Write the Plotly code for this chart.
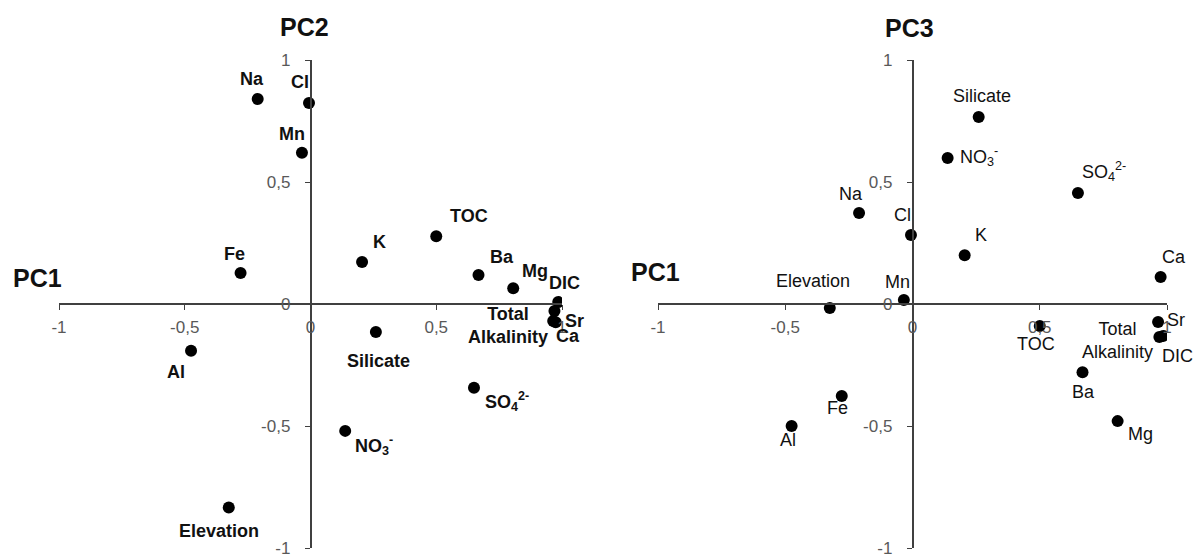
import plotly.graph_objects as go

# PCA loadings of the water-chemistry variables
variables = ["Elevation", "Al", "Fe", "Na", "Cl", "Mn", "K", "TOC", "Ba", "Mg",
             "Silicate", "NO3", "SO4", "DIC", "Total Alkalinity", "Sr", "Ca"]
pc1 = [-0.325, -0.475, -0.278, -0.21, -0.006, -0.034, 0.205, 0.50, 0.668, 0.806,
       0.26, 0.138, 0.65, 0.985, 0.97, 0.965, 0.975]
pc2 = [-0.834, -0.192, 0.127, 0.84, 0.824, 0.62, 0.172, 0.278, 0.119, 0.065,
       -0.115, -0.52, -0.343, 0.008, -0.029, -0.07, -0.075]
pc3 = [-0.016, -0.50, -0.377, 0.373, 0.283, 0.016, 0.20, -0.09, -0.28, -0.48,
       0.766, 0.598, 0.455, -0.131, -0.135, -0.074, 0.111]

tick_vals = [-1, -0.5, 0, 0.5, 1]
tick_text = ["-1", "-0,5", "0", "0,5", "1"]

# display text for each variable (chemical formulas with sub/superscripts)
display = {
    "NO3": "NO<sub>3</sub><sup>-</sup>",
    "SO4": "SO<sub>4</sub><sup>2-</sup>",
    "Total Alkalinity": "Total<br>Alkalinity",
}

# label placement relative to the marker, in pixels (dx right, dy down)
offsets_left = {
    "Elevation": (-10, 23), "Al": (-15, 21), "Fe": (-6, -19), "Na": (-6, -20),
    "Cl": (-9, -21), "Mn": (-10, -19), "K": (17, -20), "TOC": (33, -20),
    "Ba": (23, -18), "Mg": (22, -17), "Silicate": (3, 29), "NO3": (29, 15),
    "SO4": (33, 14), "DIC": (6, -19), "Total Alkalinity": (-46, 14),
    "Sr": (21, 0), "Ca": (12, 14),
}
offsets_right = {
    "Elevation": (-17, -27), "Al": (-4, 14), "Fe": (-4, 12), "Na": (-8, -19),
    "Cl": (-8, -20), "Mn": (-6, -18), "K": (16, -20), "TOC": (-4, 18),
    "Ba": (1, 20), "Mg": (23, 13), "Silicate": (3, -21), "NO3": (31, -2),
    "SO4": (26, -21), "DIC": (14, 20), "Total Alkalinity": (-42, 4),
    "Sr": (18, -2), "Ca": (13, -20),
}

W, H = 1193, 556
FONT = "Liberation Sans"
AXIS_COLOR = "#404040"

fig = go.Figure()
fig.add_trace(go.Scatter(x=pc1, y=pc2, mode="markers", xaxis="x", yaxis="y",
                         marker=dict(color="black", size=12), hoverinfo="skip"))
fig.add_trace(go.Scatter(x=pc1, y=pc3, mode="markers", xaxis="x2", yaxis="y2",
                         marker=dict(color="black", size=12), hoverinfo="skip"))

annotations = []
for name, a, b, c in zip(variables, pc1, pc2, pc3):
    text = display.get(name, name)
    dx, dy = offsets_left[name]
    annotations.append(dict(x=a, y=b, xref="x", yref="y", text=text, showarrow=False,
                            xshift=dx, yshift=-dy,
                            font=dict(family=FONT, size=18, color="#111111", weight="bold")))
    dx, dy = offsets_right[name]
    annotations.append(dict(x=a, y=c, xref="x2", yref="y2", text=text, showarrow=False,
                            xshift=dx, yshift=-dy,
                            font=dict(family=FONT, size=18, color="#111111")))

# axis titles
title_font = dict(family=FONT, size=25, color="#111111", weight="bold")
for txt, px, py in [("PC2", 304, 27), ("PC1", 37, 278), ("PC3", 909, 28), ("PC1", 655, 272)]:
    annotations.append(dict(x=px / W, y=1 - py / H, xref="paper", yref="paper", text=txt,
                            showarrow=False, font=title_font,
                            xanchor="center", yanchor="middle"))

y_dom = [(H - 548) / H, (H - 60) / H]
y_zero = (y_dom[0] + y_dom[1]) / 2
xl_dom = [59 / W, 562 / W]
xr_dom = [658 / W, 1167 / W]

common = dict(range=[-1, 1], showgrid=False, zeroline=False, showline=True,
              linecolor=AXIS_COLOR, linewidth=1.5, ticks="outside", ticklen=5,
              tickwidth=1, tickcolor=AXIS_COLOR, tickmode="array",
              tickvals=tick_vals, ticktext=tick_text, automargin=False,
              ticklabeloverflow="allow",
              tickfont=dict(family=FONT, size=17, color="#595959"))

fig.update_layout(
    width=W, height=H, margin=dict(l=0, r=0, t=0, b=0, pad=0),
    paper_bgcolor="white", plot_bgcolor="white", showlegend=False,
    xaxis=dict(common, domain=xl_dom, anchor="free", position=y_zero, ticklabelstandoff=3),
    yaxis=dict(common, domain=y_dom, anchor="free",
               position=(xl_dom[0] + xl_dom[1]) / 2, ticklabelstandoff=11),
    xaxis2=dict(common, domain=xr_dom, anchor="free", position=y_zero, ticklabelstandoff=3),
    yaxis2=dict(common, domain=y_dom, anchor="free",
                position=(xr_dom[0] + xr_dom[1]) / 2, ticklabelstandoff=11),
    annotations=annotations,
)

fig.write_html("out.html")
